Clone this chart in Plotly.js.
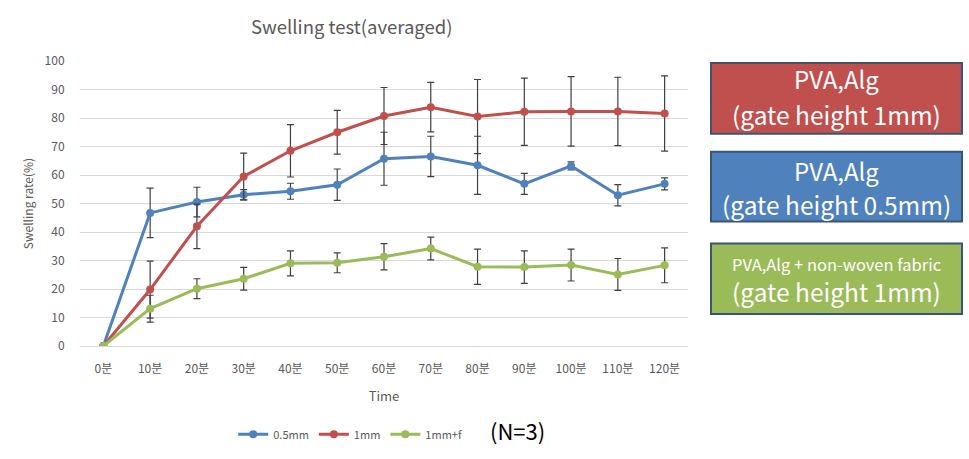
<!DOCTYPE html>
<html>
<head>
<meta charset="utf-8">
<script src="https://cdn.plot.ly/plotly-3.0.1.min.js"></script>
<style>html,body{margin:0;padding:0;background:#fff;}#chart{width:969px;height:459px;}</style>
</head>
<body>
<div id="chart"></div>
<script>
const times = ['0분','10분','20분','30분','40분','50분','60분','70분','80분','90분','100분','110분','120분'];
const seriesNames = ['0.5mm','1mm','1mm+f'];
const mm05 = [0, 46.7, 50.5, 53.1, 54.3, 56.6, 65.7, 66.5, 63.4, 56.9, 63.2, 52.9, 56.9];
const mm05Err = [0, 8.7, 5.2, 1.8, 2.8, 5.5, 9.3, 7.1, 10.2, 3.7, 1.4, 3.7, 2.1];
const mm1 = [0, 19.8, 42.0, 59.5, 68.5, 75.0, 80.7, 83.8, 80.5, 82.2, 82.3, 82.3, 81.6];
const mm1Err = [0, 10.0, 7.8, 8.2, 9.2, 7.7, 10.0, 8.7, 13.0, 11.8, 12.2, 12.0, 13.2];
const mm1f = [0, 13.1, 20.1, 23.6, 29.0, 29.2, 31.3, 34.2, 27.8, 27.7, 28.4, 25.1, 28.3];
const mm1fErr = [0, 4.7, 3.5, 4.0, 4.4, 3.5, 4.6, 4.0, 6.2, 5.7, 5.6, 5.6, 6.1];
const yTicks = [0,10,20,30,40,50,60,70,80,90,100];
const boxLabels = [
  ['PVA,Alg', '(gate height 1mm)'],
  ['PVA,Alg', '(gate height 0.5mm)'],
  ['PVA,Alg + non-woven fabric', '(gate height 1mm)']
];

const colors = ['#4F81BD', '#C0504D', '#9BBB59'];
const ys = [mm05, mm1, mm1f];
const errs = [mm05Err, mm1Err, mm1fErr];
const font = 'Noto Sans CJK KR, Noto Sans, sans-serif';

const traces = ys.map((y, i) => ({
  type: 'scatter', mode: 'lines+markers', x: times, y: y, name: seriesNames[i],
  line: {color: colors[i], width: 3},
  marker: {color: colors[i], size: 8, symbol: 'circle'},
  error_y: {type: 'data', array: errs[i], visible: true, color: '#404040', thickness: 1.2, width: 3.5}
}));

const boxY = [[0.745, 0.993], [0.437, 0.682], [0.112, 0.360]];
const boxColorIdx = [1, 0, 2];
const shapes = boxY.map((b, i) => ({
  type: 'rect', xref: 'paper', yref: 'paper', x0: 1.0378, x1: 1.4507, y0: b[0], y1: b[1],
  fillcolor: colors[boxColorIdx[i]], line: {color: '#3A5475', width: 2}
}));
const lineOff = [[0.068, -0.058], [0.058, -0.062], [0.050, -0.044]];
const annotations = [];
boxLabels.forEach((lbl, i) => {
  const mid = (boxY[i][0] + boxY[i][1]) / 2;
  annotations.push({xref:'paper', yref:'paper', x:1.2443, y:mid + lineOff[i][0], text: lbl[0], showarrow:false,
    font:{family:font, size: i===2 ? 16.5 : 24, color:'#ffffff'}, xanchor:'center', yanchor:'middle'});
  annotations.push({xref:'paper', yref:'paper', x:1.2443, y:mid + lineOff[i][1], text: lbl[1], showarrow:false,
    font:{family:font, size:24.5, color:'#ffffff'}, xanchor:'center', yanchor:'middle'});
});
annotations.push({xref:'paper', yref:'paper', x:0.72, y:-0.294, text:'(N=3)', showarrow:false,
  font:{family:font, size:22, color:'#000000'}, xanchor:'center', yanchor:'middle'});

const layout = {
  width: 969, height: 459,
  margin: {l: 80, r: 281, t: 61, b: 112},
  paper_bgcolor: '#ffffff', plot_bgcolor: '#ffffff',
  title: {text: 'Swelling test(averaged)', xref: 'container', yref: 'container', x: 0.363, y: 0.94,
    xanchor: 'center', yanchor: 'middle', font: {family: font, size: 18.5, color: '#595959'}},
  font: {family: font, color: '#595959'},
  xaxis: {type: 'category', range: [-0.5, 12.5], tickfont: {size: 12, color: '#595959'}, showgrid: false,
    showline: true, linecolor: '#D9D9D9', linewidth: 1, ticks: 'outside', ticklen: 12, tickcolor: 'rgba(0,0,0,0)', zeroline: false,
    title: {text: 'Time', font: {size: 13, color: '#595959'}, standoff: 16}},
  yaxis: {range: [0, 100], tickvals: yTicks, tickfont: {size: 12, color: '#595959'},
    gridcolor: '#D9D9D9', gridwidth: 1, zeroline: false, showline: false,
    ticks: 'outside', ticklen: 12, tickcolor: 'rgba(0,0,0,0)',
    title: {text: 'Swelling rate(%)', font: {size: 12, color: '#595959'}, standoff: 8}},
  showlegend: true,
  legend: {orientation: 'h', x: 0.252, y: -0.305, xanchor: 'left', yanchor: 'middle',
    font: {size: 11, color: '#595959'}, itemwidth: 30, tracegroupgap: 0},
  shapes: shapes, annotations: annotations
};

Plotly.newPlot('chart', traces, layout, {displayModeBar: false, staticPlot: true});
</script>
</body>
</html>
